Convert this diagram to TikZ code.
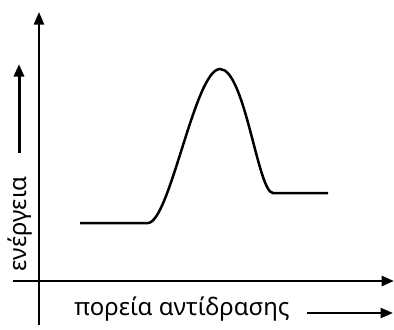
\documentclass[tikz,border=0pt]{standalone}
\usepackage{fontspec}
\setmainfont{Noto Sans}
\usetikzlibrary{arrows.meta,positioning}
\tikzset{axis/.style={line width=1.1pt,-{Triangle[length=5pt,width=4pt]}},
  label/.style={inner sep=0pt,font=\fontsize{9.6}{12}\selectfont}}

\begin{document}
\begin{tikzpicture}[x=0.4pt,y=-0.4pt,>=Stealth]
  \useasboundingbox (0,0) rectangle (394,329);
  % axes
  \coordinate (ybot) at (39,325);
  \coordinate (ytop) at (39,12);
  \coordinate (xlft) at (13,281);
  \coordinate (xrgt) at (394,281);
  \draw[axis,line width=0.9pt] (ybot) -- (ytop);
  \draw[axis] (xlft) -- (xrgt);
  % labels
  \node[label] (xlab) at (182,309) {πορεία αντίδρασης};
  \node[label,rotate=90] (ylab) at (20,224) {ενέργεια};
  \coordinate (xbeg) at (307,313);
  \coordinate (xarr) at (393,313);
  \coordinate (ybeg) at (19,153);
  \coordinate (yarr) at (19,64);
  \draw[axis,line width=1pt] (xbeg) -- (xarr);
  \draw[axis,line width=1.2pt] (ybeg) -- (yarr);
  % energy profile
  \draw[line width=1pt] (80,223) -- (148,223)
    .. controls (170,222) and (195,69) .. (220,69)
    .. controls (245,69) and (258,193) .. (273,193) -- (328,193);
\end{tikzpicture}
\end{document}
